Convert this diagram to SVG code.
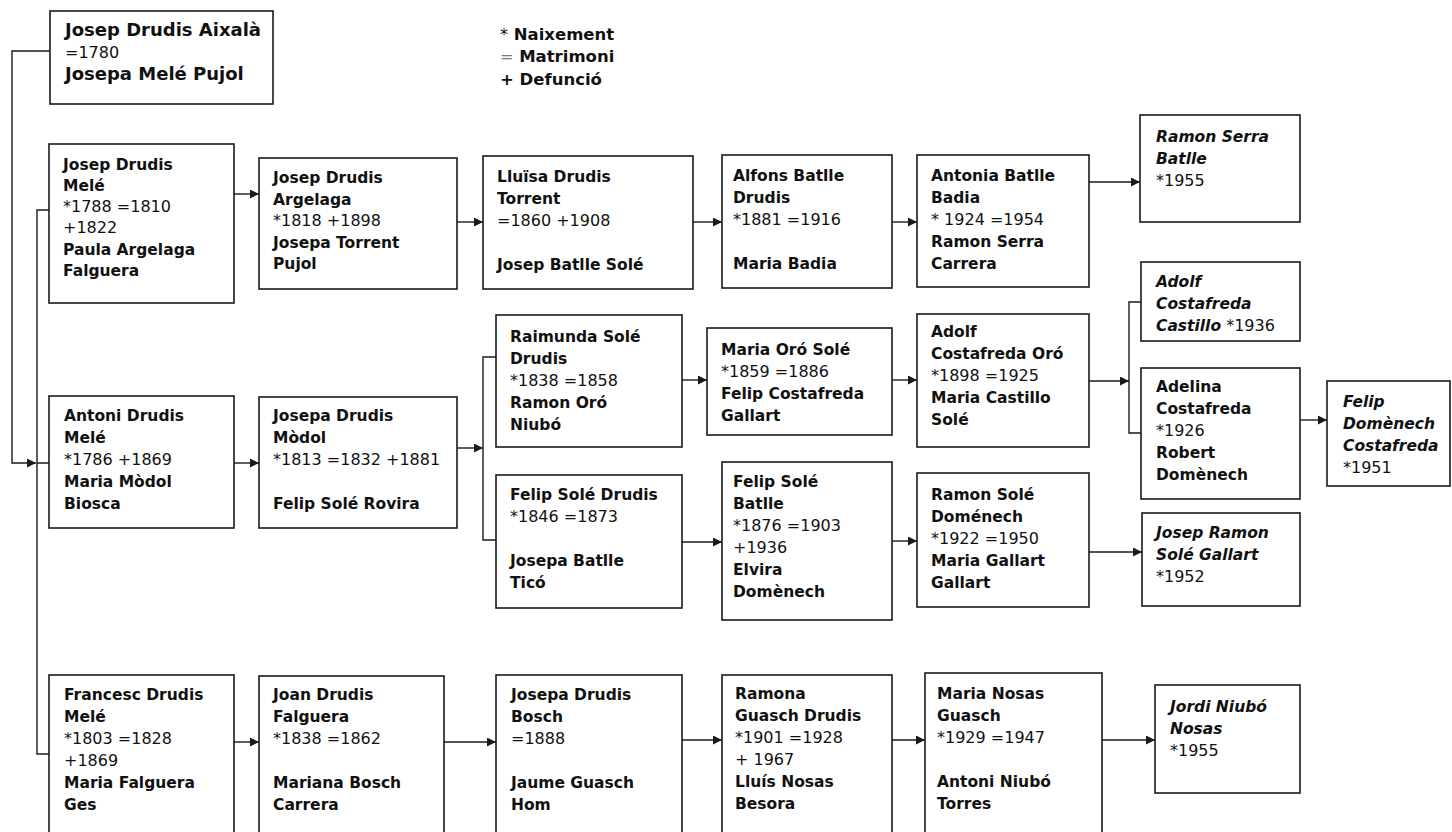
<svg xmlns="http://www.w3.org/2000/svg" width="1452" height="832" viewBox="0 0 1452 832">
<style>
.box{fill:#fff;stroke:#1a1a1a;stroke-width:1.6}
.t{font-family:"DejaVu Sans",Verdana,sans-serif;font-size:15.5px;font-weight:bold;fill:#111}
.d{font-weight:normal;font-size:16px}
.i{font-style:italic}
.c{fill:none;stroke:#1a1a1a;stroke-width:1.4}
</style>
<defs>
<marker id="ah" viewBox="0 0 10 10" refX="10" refY="5" markerWidth="11" markerHeight="9" markerUnits="userSpaceOnUse" orient="auto"><path d="M0,0 L10,5 L0,10 z" fill="#1a1a1a"/></marker>
</defs>
<rect width="1452" height="832" fill="#fff"/>

<g id="legend" class="t" style="font-size:16.5px">
<text x="500" y="40"><tspan class="d">*</tspan> Naixement</text>
<text x="500" y="62"><tspan class="d" fill="#777">=</tspan> Matrimoni</text>
<text x="500" y="85">+ Defunció</text>
</g>

<g id="connectors">
<path class="c" d="M50,51 H12 V463 H36" marker-end="url(#ah)"/>
<path class="c" d="M49,210 H37 V754 H49 M37,463 H49"/>
<path class="c" d="M234,194 H259" marker-end="url(#ah)"/>
<path class="c" d="M457,222 H483" marker-end="url(#ah)"/>
<path class="c" d="M693,222 H722" marker-end="url(#ah)"/>
<path class="c" d="M892,222 H917" marker-end="url(#ah)"/>
<path class="c" d="M1089,182 H1140" marker-end="url(#ah)"/>
<path class="c" d="M234,463 H259" marker-end="url(#ah)"/>
<path class="c" d="M457,448 H483" marker-end="url(#ah)"/>
<path class="c" d="M496,357 H483 V540 H496"/>
<path class="c" d="M682,380 H707" marker-end="url(#ah)"/>
<path class="c" d="M892,380 H917" marker-end="url(#ah)"/>
<path class="c" d="M1089,381 H1129" marker-end="url(#ah)"/>
<path class="c" d="M1141,302 H1129 V433 H1141"/>
<path class="c" d="M1300,420 H1327" marker-end="url(#ah)"/>
<path class="c" d="M682,542 H722" marker-end="url(#ah)"/>
<path class="c" d="M892,541 H917" marker-end="url(#ah)"/>
<path class="c" d="M1089,552 H1142" marker-end="url(#ah)"/>
<path class="c" d="M234,742 H259" marker-end="url(#ah)"/>
<path class="c" d="M444,742 H496" marker-end="url(#ah)"/>
<path class="c" d="M682,740 H722" marker-end="url(#ah)"/>
<path class="c" d="M892,740 H925" marker-end="url(#ah)"/>
<path class="c" d="M1102,740 H1155" marker-end="url(#ah)"/>
</g>

<g id="n-aixala">
<rect class="box" x="50" y="11" width="223" height="93"/>
<text class="t" style="font-size:18px" x="65" y="36">Josep Drudis Aixalà<tspan class="d" x="65" dy="22">=1780</tspan><tspan x="65" dy="22">Josepa Melé Pujol</tspan></text>
</g>

<g id="n-josep-mele">
<rect class="box" x="49" y="144" width="185" height="159"/>
<text class="t" x="63" y="170">Josep Drudis<tspan x="63" dy="21">Melé</tspan><tspan class="d" x="63" dy="21">*1788 =1810</tspan><tspan class="d" x="63" dy="21">+1822</tspan><tspan x="63" dy="21.5">Paula Argelaga</tspan><tspan x="63" dy="21.5">Falguera</tspan></text>
</g>

<g id="n-josep-argelaga">
<rect class="box" x="259" y="158" width="198" height="131"/>
<text class="t" x="273" y="183">Josep Drudis<tspan x="273" dy="21.5">Argelaga</tspan><tspan class="d" x="273" dy="21.5">*1818 +1898</tspan><tspan x="273" dy="21.5">Josepa Torrent</tspan><tspan x="273" dy="21.5">Pujol</tspan></text>
</g>

<g id="n-lluisa">
<rect class="box" x="483" y="156" width="210" height="133"/>
<text class="t" x="497" y="182">Lluïsa Drudis<tspan x="497" dy="22">Torrent</tspan><tspan class="d" x="497" dy="22">=1860 +1908</tspan><tspan x="497" dy="44">Josep Batlle Solé</tspan></text>
</g>

<g id="n-alfons">
<rect class="box" x="722" y="155" width="170" height="133"/>
<text class="t" x="733" y="181">Alfons Batlle<tspan x="733" dy="22">Drudis</tspan><tspan class="d" x="733" dy="22">*1881 =1916</tspan><tspan x="733" dy="44">Maria Badia</tspan></text>
</g>

<g id="n-antonia">
<rect class="box" x="917" y="155" width="172" height="132"/>
<text class="t" x="931" y="181">Antonia Batlle<tspan x="931" dy="22">Badia</tspan><tspan class="d" x="931" dy="22">* 1924 =1954</tspan><tspan x="931" dy="22">Ramon Serra</tspan><tspan x="931" dy="22">Carrera</tspan></text>
</g>

<g id="n-ramon-serra-batlle">
<rect class="box" x="1140" y="115" width="160" height="107"/>
<text class="t i" x="1156" y="142">Ramon Serra<tspan x="1156" dy="22">Batlle</tspan><tspan class="d" font-style="normal" x="1156" dy="22">*1955</tspan></text>
</g>

<g id="n-antoni">
<rect class="box" x="49" y="396" width="185" height="132"/>
<text class="t" x="64" y="421">Antoni Drudis<tspan x="64" dy="22">Melé</tspan><tspan class="d" x="64" dy="22">*1786 +1869</tspan><tspan x="64" dy="22">Maria Mòdol</tspan><tspan x="64" dy="22">Biosca</tspan></text>
</g>

<g id="n-josepa-modol">
<rect class="box" x="259" y="397" width="198" height="131"/>
<text class="t" x="273" y="421">Josepa Drudis<tspan x="273" dy="22">Mòdol</tspan><tspan class="d" x="273" dy="22">*1813 =1832 +1881</tspan><tspan x="273" dy="44">Felip Solé Rovira</tspan></text>
</g>

<g id="n-raimunda">
<rect class="box" x="496" y="315" width="186" height="132"/>
<text class="t" x="510" y="342">Raimunda Solé<tspan x="510" dy="22">Drudis</tspan><tspan class="d" x="510" dy="22">*1838 =1858</tspan><tspan x="510" dy="22">Ramon Oró</tspan><tspan x="510" dy="22">Niubó</tspan></text>
</g>

<g id="n-felip-sole-drudis">
<rect class="box" x="496" y="475" width="186" height="133"/>
<text class="t" x="510" y="500">Felip Solé Drudis<tspan class="d" x="510" dy="22">*1846 =1873</tspan><tspan x="510" dy="44">Josepa Batlle</tspan><tspan x="510" dy="22">Ticó</tspan></text>
</g>

<g id="n-maria-oro">
<rect class="box" x="707" y="328" width="185" height="107"/>
<text class="t" x="721" y="355">Maria Oró Solé<tspan class="d" x="721" dy="22">*1859 =1886</tspan><tspan x="721" dy="22">Felip Costafreda</tspan><tspan x="721" dy="22">Gallart</tspan></text>
</g>

<g id="n-adolf-oro">
<rect class="box" x="917" y="314" width="172" height="133"/>
<text class="t" x="931" y="337">Adolf<tspan x="931" dy="22">Costafreda Oró</tspan><tspan class="d" x="931" dy="22">*1898 =1925</tspan><tspan x="931" dy="22">Maria Castillo</tspan><tspan x="931" dy="22">Solé</tspan></text>
</g>

<g id="n-felip-sole-batlle">
<rect class="box" x="722" y="462" width="170" height="158"/>
<text class="t" x="733" y="487">Felip Solé<tspan x="733" dy="22">Batlle</tspan><tspan class="d" x="733" dy="22">*1876 =1903</tspan><tspan class="d" x="733" dy="22">+1936</tspan><tspan x="733" dy="22">Elvira</tspan><tspan x="733" dy="22">Domènech</tspan></text>
</g>

<g id="n-ramon-sole-domenech">
<rect class="box" x="917" y="473" width="172" height="134"/>
<text class="t" x="931" y="500">Ramon Solé<tspan x="931" dy="22">Doménech</tspan><tspan class="d" x="931" dy="22">*1922 =1950</tspan><tspan x="931" dy="22">Maria Gallart</tspan><tspan x="931" dy="22">Gallart</tspan></text>
</g>

<g id="n-adolf-castillo">
<rect class="box" x="1141" y="262" width="159" height="79"/>
<text class="t i" x="1156" y="287">Adolf<tspan x="1156" dy="22">Costafreda</tspan><tspan x="1156" dy="22">Castillo</tspan><tspan class="d" font-style="normal"> *1936</tspan></text>
</g>

<g id="n-adelina">
<rect class="box" x="1141" y="368" width="159" height="131"/>
<text class="t" x="1156" y="392">Adelina<tspan x="1156" dy="22">Costafreda</tspan><tspan class="d" x="1156" dy="22">*1926</tspan><tspan x="1156" dy="22">Robert</tspan><tspan x="1156" dy="22">Domènech</tspan></text>
</g>

<g id="n-felip-domenech">
<rect class="box" x="1327" y="381" width="123" height="105"/>
<text class="t i" x="1343" y="407">Felip<tspan x="1343" dy="22">Domènech</tspan><tspan x="1343" dy="22">Costafreda</tspan><tspan class="d" font-style="normal" x="1343" dy="22">*1951</tspan></text>
</g>

<g id="n-josep-ramon">
<rect class="box" x="1142" y="513" width="158" height="93"/>
<text class="t i" x="1156" y="538">Josep Ramon<tspan x="1156" dy="22">Solé Gallart</tspan><tspan class="d" font-style="normal" x="1156" dy="22">*1952</tspan></text>
</g>

<g id="n-francesc">
<rect class="box" x="49" y="675" width="185" height="170"/>
<text class="t" x="64" y="700">Francesc Drudis<tspan x="64" dy="22">Melé</tspan><tspan class="d" x="64" dy="22">*1803 =1828</tspan><tspan class="d" x="64" dy="22">+1869</tspan><tspan x="64" dy="22">Maria Falguera</tspan><tspan x="64" dy="22">Ges</tspan></text>
</g>

<g id="n-joan">
<rect class="box" x="259" y="676" width="185" height="170"/>
<text class="t" x="273" y="700">Joan Drudis<tspan x="273" dy="22">Falguera</tspan><tspan class="d" x="273" dy="22">*1838 =1862</tspan><tspan x="273" dy="44">Mariana Bosch</tspan><tspan x="273" dy="22">Carrera</tspan></text>
</g>

<g id="n-josepa-bosch">
<rect class="box" x="496" y="675" width="186" height="170"/>
<text class="t" x="511" y="700">Josepa Drudis<tspan x="511" dy="22">Bosch</tspan><tspan class="d" x="511" dy="22">=1888</tspan><tspan x="511" dy="44">Jaume Guasch</tspan><tspan x="511" dy="22">Hom</tspan></text>
</g>

<g id="n-ramona">
<rect class="box" x="722" y="675" width="170" height="170"/>
<text class="t" x="735" y="699">Ramona<tspan x="735" dy="22">Guasch Drudis</tspan><tspan class="d" x="735" dy="22">*1901 =1928</tspan><tspan class="d" x="735" dy="22">+ 1967</tspan><tspan x="735" dy="22">Lluís Nosas</tspan><tspan x="735" dy="22">Besora</tspan></text>
</g>

<g id="n-maria-nosas">
<rect class="box" x="925" y="673" width="177" height="172"/>
<text class="t" x="937" y="699">Maria Nosas<tspan x="937" dy="22">Guasch</tspan><tspan class="d" x="937" dy="22">*1929 =1947</tspan><tspan x="937" dy="44">Antoni Niubó</tspan><tspan x="937" dy="22">Torres</tspan></text>
</g>

<g id="n-jordi">
<rect class="box" x="1155" y="685" width="145" height="108"/>
<text class="t i" x="1170" y="712">Jordi Niubó<tspan x="1170" dy="22">Nosas</tspan><tspan class="d" font-style="normal" x="1170" dy="22">*1955</tspan></text>
</g>
</svg>
